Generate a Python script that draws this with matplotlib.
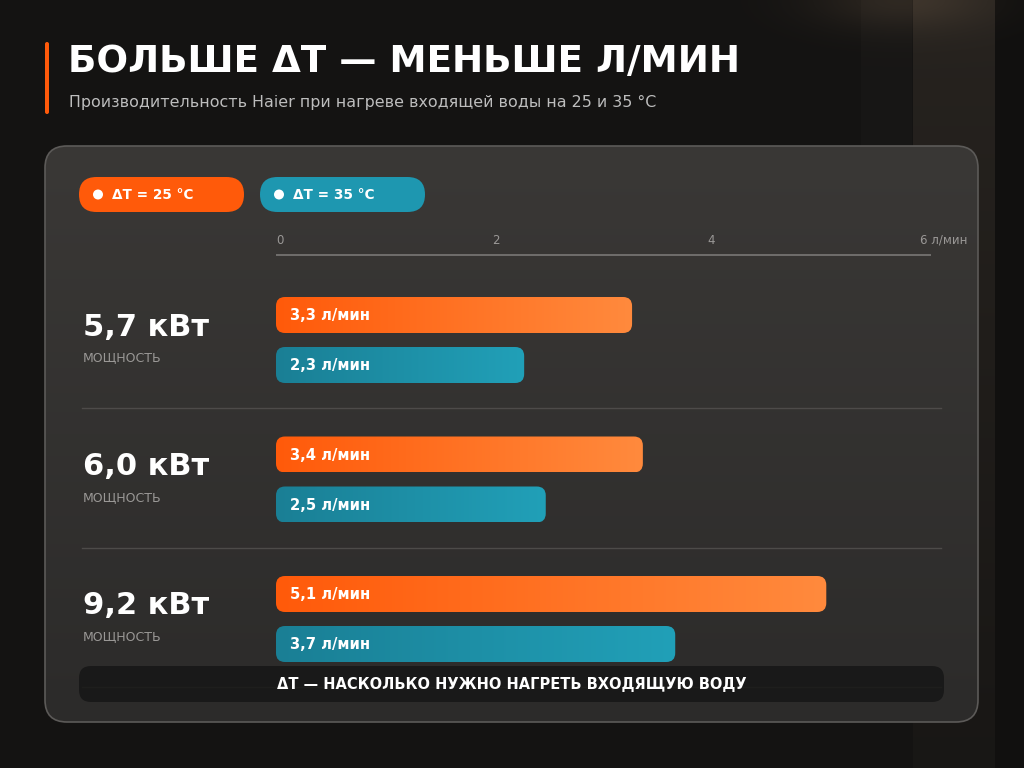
import numpy as np
import matplotlib
matplotlib.use("Agg")
import matplotlib.pyplot as plt
from matplotlib.patches import FancyBboxPatch, Circle
from matplotlib.colors import to_rgb

# ---------------- data ----------------
powers = ["5,7 кВт", "6,0 кВт", "9,2 кВт"]
flow_dt25 = [3.3, 3.4, 5.1]
flow_dt35 = [2.3, 2.5, 3.7]
series_names = ["ΔT = 25 °C", "ΔT = 35 °C"]
tick_values = [0, 2, 4, 6]
tick_labels = ["0", "2", "4", "6 л/мин"]
title = "БОЛЬШЕ ΔТ — МЕНЬШЕ Л/МИН"
subtitle = "Производительность Haier при нагреве входящей воды на 25 и 35 °C"
row_caption = "МОЩНОСТЬ"
footer = "ΔТ — НАСКОЛЬКО НУЖНО НАГРЕТЬ ВХОДЯЩУЮ ВОДУ"

ORANGE_A, ORANGE_B = "#ff5a0a", "#ff8a3d"
TEAL_A, TEAL_B = "#1a7f95", "#21a0b8"

plt.rcParams["font.family"] = ["DejaVu Sans"]

W, H = 1024, 768
fig = plt.figure(figsize=(W / 100, H / 100), dpi=100)

# ---------- background axes in pixel coordinates ----------
bg = fig.add_axes([0, 0, 1, 1])
bg.set_xlim(0, W)
bg.set_ylim(H, 0)
bg.axis("off")

yy, xx = np.mgrid[0:H, 0:W].astype(float)
base = np.array(to_rgb("#141312"))
img = np.ones((H, W, 3)) * base
warm = np.array(to_rgb("#27231f"))
panel_mask = ((xx > 912) & (xx < 995)).astype(float) * np.clip(1 - yy / 1000, 0.25, 1)
img += (warm - base) * panel_mask[..., None]
glow = np.exp(-(((xx - 900) / 90) ** 2 + ((yy - 0) / 30) ** 2))
img += np.array([0.09, 0.07, 0.05]) * glow[..., None]
img[:, 995:] *= 0.85
img += np.array([0.015, 0.014, 0.013]) * ((xx > 860) & (xx < 912) & (yy < 150))[..., None]
img = np.clip(img, 0, 1)
bg.imshow(img, extent=(0, W, H, 0), aspect="auto", zorder=0)

# accent bar near title
bg.add_patch(FancyBboxPatch((45, 42), 4, 72, boxstyle="round,pad=0,rounding_size=2",
                            fc="#ff5a0a", ec="none", zorder=2))
bg.text(68, 61, title, color="white", fontsize=26.8, fontweight="bold", va="center", ha="left", zorder=3)
bg.text(69, 102, subtitle, color="#bdbdbd", fontsize=11.4, va="center", ha="left", zorder=3)

# main panel
panel = FancyBboxPatch((45, 146), 933, 576, boxstyle="round,pad=0,rounding_size=22",
                       fc="none", ec="#5c5a58", lw=1.2, zorder=3)
bg.add_patch(panel)
pg = np.linspace(0, 1, 200)[:, None]
c_top, c_bot = np.array(to_rgb("#3a3836")), np.array(to_rgb("#2c2b2a"))
pimg = c_top[None, None, :] * (1 - pg[..., None]) + c_bot[None, None, :] * pg[..., None]
pimg = np.repeat(pimg, 2, axis=1)
pim = bg.imshow(pimg, extent=(45, 978, 722, 146), aspect="auto", zorder=2)
pim.set_clip_path(panel)

# legend pills
leg_x = [79, 260]
leg_cols = [ORANGE_A, "#1e97b0"]
for lx, col, name in zip(leg_x, leg_cols, series_names):
    bg.add_patch(FancyBboxPatch((lx, 177), 165, 35, boxstyle="round,pad=0,rounding_size=17.5",
                                fc=col, ec="none", zorder=4))
    bg.add_patch(Circle((lx + 19, 194.5), 5, fc="white", ec="none", zorder=5))
    bg.text(lx + 33, 195, name, color="white", fontsize=9.8, fontweight="bold",
            va="center", ha="left", zorder=5)

# row geometry
row_top = 297
row_step = 139.5
bar_h = 36
bar_gap = 50

for i in range(len(powers)):
    ysep = row_top + row_step * i + 111
    bg.plot([82, 941], [ysep, ysep], color="#4d4b49", lw=1, zorder=4)

for i, p in enumerate(powers):
    yc = row_top + row_step * i
    bg.text(83, yc + 30, p, color="white", fontsize=22, fontweight="bold", va="center", ha="left", zorder=5)
    bg.text(83, yc + 61, row_caption, color="#9a9896", fontsize=9, va="center", ha="left", zorder=5)

# footer banner
bg.add_patch(FancyBboxPatch((79, 666), 865, 36, boxstyle="round,pad=0,rounding_size=12",
                            fc="#161616", ec="none", alpha=0.85, zorder=6))
bg.text(511.5, 685, footer, color="white", fontsize=10.5, fontweight="bold",
        va="center", ha="center", zorder=7)

# ---------- data axes ----------
x0_px, x1_px = 276, 931
px_per_unit = 107.9
ax = fig.add_axes([x0_px / W, 0, (x1_px - x0_px) / W, 1])
ax.set_facecolor("none")
ax.axis("off")
x_track = (x1_px - x0_px) / px_per_unit

def grad(c1, c2, n=256):
    a, b = np.array(to_rgb(c1)), np.array(to_rgb(c2))
    t = np.linspace(0, 1, n)[:, None]
    return (a * (1 - t) + b * t)[None, :, :]

r_px = 9
for i in range(len(powers)):
    for k, (vals, ca, cb) in enumerate([(flow_dt25, ORANGE_A, ORANGE_B), (flow_dt35, TEAL_A, TEAL_B)]):
        v = vals[i]
        y0 = row_top + row_step * i + k * bar_gap
        patch = FancyBboxPatch((0, y0), v, bar_h,
                               boxstyle=f"round,pad=0,rounding_size={r_px / px_per_unit}",
                               mutation_aspect=px_per_unit, fc="none", ec="none", zorder=5)
        ax.add_patch(patch)
        im = ax.imshow(grad(ca, cb), extent=(0, v, y0 + bar_h, y0), aspect="auto", zorder=4)
        im.set_clip_path(patch)
        label = f"{v:.1f}".replace(".", ",") + " л/мин"
        ax.text(14 / px_per_unit, y0 + bar_h / 2 + 0.5, label, color="white", fontsize=10.6,
                fontweight="bold", va="center", ha="left", zorder=6)

ax.plot([0, x_track], [255, 255], color="#7a7876", lw=1.2, zorder=5)
for tv, tl in zip(tick_values, tick_labels):
    shift = -3 / px_per_unit if tv == tick_values[-1] else 0
    ax.text(tv + shift, 240, tl, color="#9a9896", fontsize=8.5, va="center", ha="left")

ax.set_xlim(0, x_track)
ax.set_ylim(H, 0)

fig.savefig("out.png", dpi=100)
